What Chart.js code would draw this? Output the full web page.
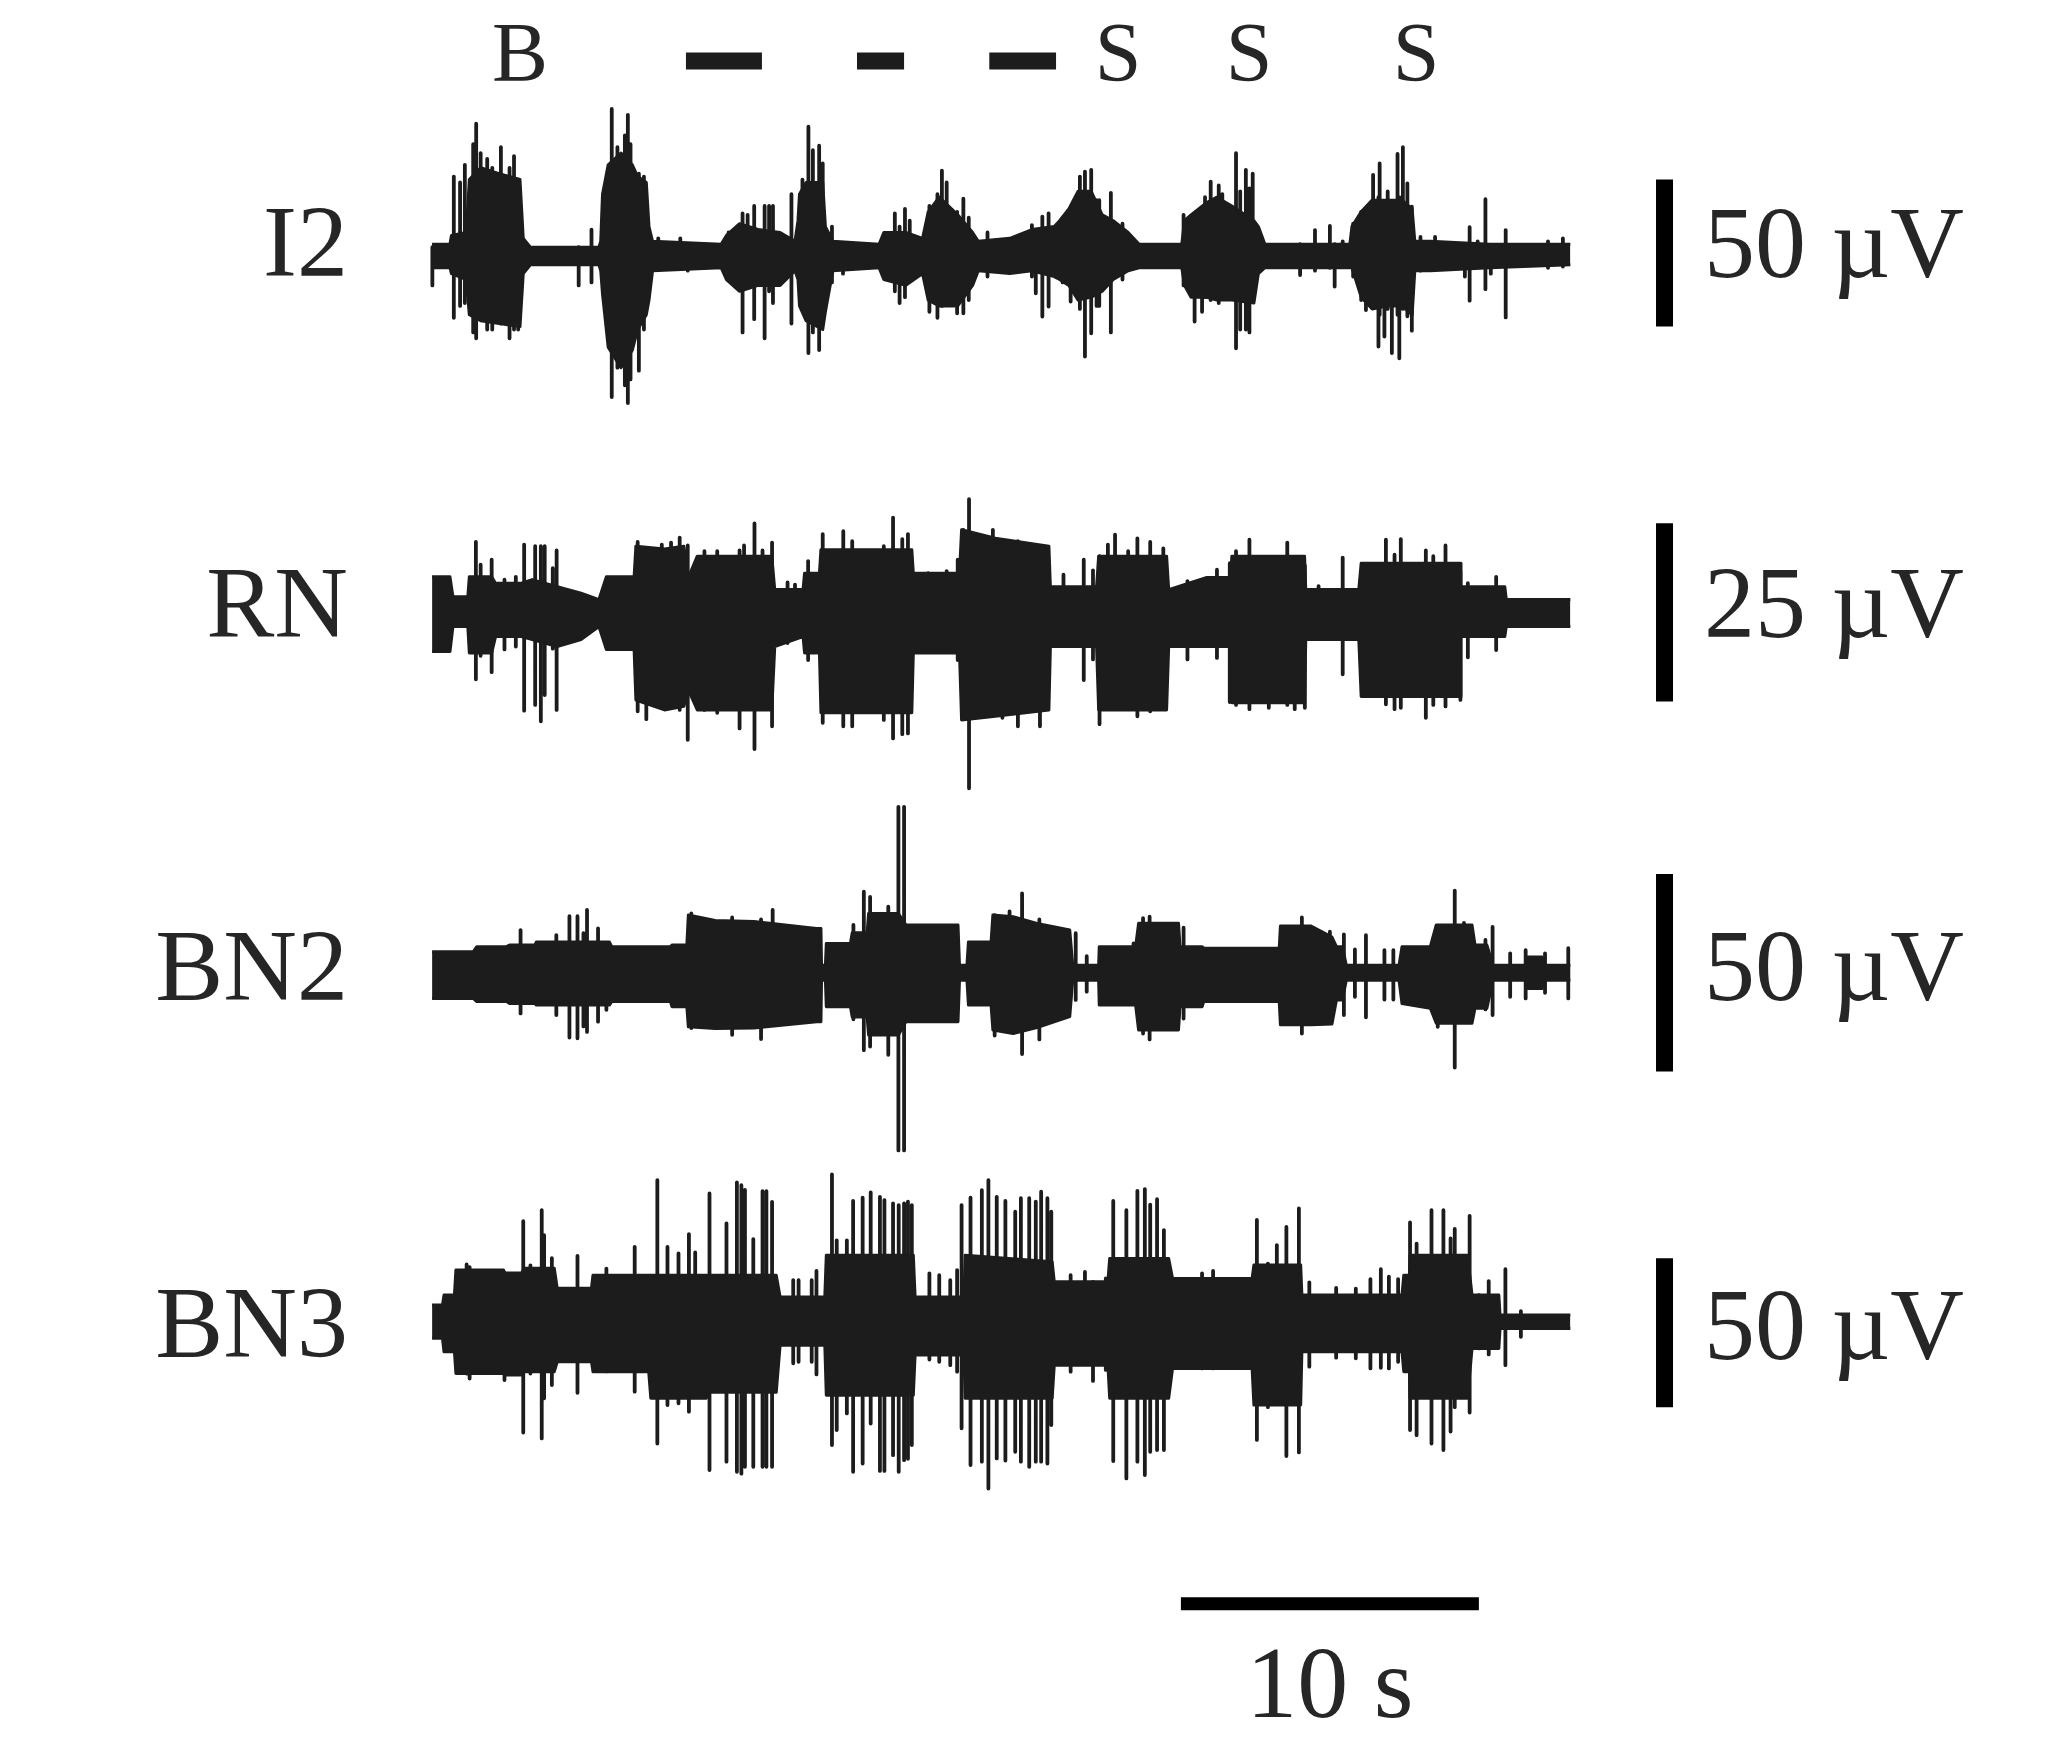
<!DOCTYPE html>
<html><head><meta charset="utf-8">
<script src="https://cdn.jsdelivr.net/npm/chart.js@4/dist/chart.umd.min.js"></script>
<style>
html,body{margin:0;padding:0;background:#fff;}
#wrap{position:relative;width:2051px;height:1746px;overflow:hidden;background:#fff;}
canvas{position:absolute;left:0;top:0;}
.t{position:absolute;font-family:"Liberation Serif","Times New Roman",serif;color:#262626;line-height:1;white-space:nowrap;}
</style></head><body>
<div id="wrap"><canvas id="c" width="2051" height="1746" style="width:2051px;height:1746px"></canvas></div>
<script>
// ---------- DATA (time in s, amplitude in µV) ----------
const traceNames = ['I2', 'RN', 'BN2', 'BN3'];
const scaleLabels = ['50 µV', '25 µV', '50 µV', '50 µV'];
const scaleSpans = [50, 25, 50, 50];
const scaleLows = [-24, -12.4, -25, -29];
const timeBarSeconds = 10;
const timeBarLabel = '10 s';
const markerLetters = ['B', 'S', 'S', 'S'];
const markerTimes = [2.95, 23.02, 27.42, 33.02];
const epochStarts = [8.52, 14.26, 18.7];
const epochEnds = [11.07, 15.84, 20.94];

// I2 envelope (dense activity) and individual spikes
const i2BodyT = [0,0.6,0.65,1.15,1.25,1.63,2.25,2.95,3.06,3.3,5.6,5.66,5.72,5.91,6.34,6.72,6.9,7.19,7.28,7.4,9.7,9.88,10.32,10.94,11.68,12.18,12.28,12.33,12.55,13.11,13.2,13.45,15.0,15.16,15.9,16.46,16.65,17.02,17.64,18.14,18.33,19.39,20.13,20.88,21.06,21.37,21.68,22.12,22.49,22.86,23.36,23.73,25.16,25.25,25.47,25.97,26.34,26.84,27.58,27.73,27.95,30.8,30.87,31.18,31.55,32.05,32.55,32.89,32.98,33.5,35.5,38.2];
const i2BodyTop = [4,4,7,8,26,30,28,26,6,3,3,5,21,31,35,31,27,25,10,5,4,7,11,9,8,5,12,21,25,25,10,5,4,8,8,6,15,20,14,8,5,6,9,10,12,16,22,22,14,12,8,4,4,12,14,18,20,17,12,10,4,4,10,15,19,19,19,16,5,5,4,4];
const i2BodyBot = [-4,-4,-6,-8,-20,-22,-23,-24,-6,-3,-3,-5,-13,-31,-38,-32,-25,-20,-15,-5,-4,-8,-12,-10,-10,-5,-8,-17,-22,-25,-19,-5,-4,-8,-10,-6,-15,-17,-17,-10,-5,-6,-5,-7,-8,-10,-15,-14,-12,-8,-5,-4,-4,-10,-14,-14,-15,-15,-16,-6,-4,-4,-4,-14,-18,-17,-17,-20,-5,-5,-4,-3];
const i2SpikeT = [0.01,0.73,0.94,1.1,1.38,1.48,1.63,1.85,2.02,2.31,2.6,2.75,2.89,4.92,5.35,5.76,6.03,6.22,6.47,6.57,6.66,6.94,7.11,7.59,8.33,8.58,9.95,10.42,10.59,10.81,11.16,11.31,11.44,12.06,12.43,12.63,12.78,12.99,13.11,13.42,13.79,15.53,15.69,15.87,16.03,16.69,16.96,17.11,17.27,17.62,17.83,18.01,18.64,20.13,20.26,20.48,20.69,21.16,21.43,21.6,21.74,21.91,22.12,22.3,22.39,22.78,23.17,25.22,25.59,25.84,25.94,26.13,26.4,26.52,26.77,26.98,27.12,27.31,27.43,27.54,29.13,29.63,30.13,30.29,30.56,30.91,31.18,31.34,31.58,31.76,31.8,31.96,32.07,32.21,32.4,32.46,32.58,32.73,32.88,33.17,33.66,34.66,34.82,35.09,35.35,35.53,36.03,37.45,37.95];
const i2SpikeHi = [3,27,25,31,38,45,35,33,30,37,30,34,26,3,9,21,50,37,41,48,38,28,27,6,6,4,8,14.5,14,17,17,17,17,21,26,44,36,37.5,31.5,10,3,14.5,10,16,12,17,21,29,25,15,19.5,13,8,10.5,8,13.4,14.5,12,15,19.6,27,28.7,29.3,19,19,21.5,11,14,14,15,20,25.3,24,21,17,35,22,29.3,23,28,4,8.8,10.2,4,5,11,15,14,27.6,20,31.5,18,22,18,34.7,20,37,24.7,16.8,6.5,6.5,3,9.8,5,19.3,3,8.8,5,6];
const i2SpikeLo = [-10,-21,-17,-16,-26,-28,-20,-25,-25,-23,-28,-25,-25,-10,-9,-13,-48,-38,-44,-50,-42,-39,-25,-4,-4,-5,-8,-26,-9,-21.5,-28,-12,-16,-23,-16,-33,-26,-32,-20,-9,-6,-12,-16,-14,-8,-19,-21,-17,-15,-19.5,-19.5,-15,-7,-7,-12.7,-20.6,-17.2,-9,-15.5,-13,-18,-34.2,-26.3,-17,-17,-26,-8,-10,-22.3,-19,-14,-15,-16,-12.5,-14,-31.4,-25,-25,-26,-15,-6.5,-5,-4,-10.4,-3,-7,-15,-18.4,-15,-30.8,-20,-27.4,-18,-33,-20,-34.8,-18,-20.5,-25.4,-5,-3,-7,-15.2,-3,-11.3,-6,-20.9,-4,-3.6];

// RN
const rnBodyT = [0,0.6,0.7,1.2,1.25,2.0,2.13,3.0,3.36,4.2,5.0,5.6,5.85,6.78,6.84,7.8,8.45,8.6,8.9,11.4,11.5,12.45,12.5,13.0,13.05,16.1,16.15,17.7,17.77,18.9,20.7,20.75,22.3,22.37,24.65,24.72,26.0,26.8,26.84,29.28,29.32,31.1,31.18,34.5,34.53,36.0,36.05,38.2];
const rnBodyTop = [5.1,5.1,2.3,2.3,5.1,5.1,4.2,4.2,4.7,3.7,2.8,1.9,5.1,5.1,9.4,9.0,9.4,5,8,8,3.3,3.3,5.6,5.6,8.9,8.9,5.6,5.6,11.7,10.5,9.4,3.7,3.7,8,8,3.3,5,5,8,8,3.3,3.3,7,7,3.7,3.7,1.9,1.9];
const rnBodyBot = [-5.4,-5.4,-1.9,-1.9,-5.6,-5.6,-3.3,-3.3,-3.7,-4.7,-3.7,-1.9,-5.1,-5.1,-12.2,-13.6,-13.1,-10.8,-13.6,-13.6,-4.7,-3.3,-5.6,-5.6,-14,-14,-5.6,-5.6,-15,-14.5,-13.6,-4.7,-4.7,-13.6,-13.6,-4.7,-4.7,-4.7,-12.6,-12.6,-3.7,-3.7,-11.7,-11.7,-3.3,-3.3,-1.9,-1.9];
const rnSpikeT = [1.47,1.63,2.0,2.43,2.81,3.09,3.46,3.65,3.78,4.05,4.18,6.9,7.19,7.71,8.02,8.31,8.58,9.14,9.57,10.32,10.47,10.82,11.09,11.41,11.93,12.18,12.62,13.11,13.8,14.1,15.16,15.47,15.78,15.97,16.65,17.27,17.64,17.83,18.02,18.82,19.14,19.66,20.23,20.4,21.19,21.87,22.18,22.4,22.68,22.92,23.36,23.67,24.1,24.54,25.35,26.34,26.77,26.98,27.43,28.08,28.7,28.95,29.29,29.75,30.56,32.01,32.3,32.51,33.35,33.6,34.01,34.51,34.76,35.71];
const rnSpikeHi = [10,6.8,7.5,4.7,5.1,9.6,9.4,9.4,9.4,6.3,8.8,10,9,9.6,9.9,10.6,9.5,8.7,8.7,8.8,9.5,12.6,8.8,9.9,4.3,4,7.3,11.1,11.5,10.1,9.4,13.4,10.4,11.1,5.6,5.9,7.5,11.7,16,11.7,10,10.1,9.1,9,5.4,7.5,6,8,9.6,11,8.7,10.5,10,9.1,4.5,6.1,7,8.7,10.3,7.7,9.9,7.5,6.7,3.8,7.8,10.3,8.2,10.4,8.8,8,9.5,5.9,4.2,5.1];
const rnSpikeLo = [-9.3,-6,-8.3,-5.1,-4.7,-13.7,-12.9,-15.2,-11.5,-5,-13.6,-13.8,-14.9,-13,-12,-13.6,-17.8,-13.6,-14,-16.2,-13,-19.1,-12,-15.9,-4.2,-3.5,-6.6,-15.4,-15.9,-15.9,-15,-17.6,-17,-16.9,-5.4,-4,-6.6,-14,-24.6,-13,-14.7,-15.9,-12,-15.9,-4.5,-9.4,-6.5,-15.6,-12,-13,-12.5,-14.5,-13.8,-12.9,-6.5,-6.3,-12.5,-12.9,-13.5,-13.3,-12.9,-13.5,-13.3,-3.5,-8.6,-12.8,-13.5,-13.3,-14.7,-12.9,-13.1,-12.2,-6.2,-5.2];

// BN2
const bn2BodyT = [0,1.38,1.5,2.5,2.6,3.45,3.5,5.95,6.03,8.0,8.05,8.55,8.6,9.5,10.8,12.9,13.05,13.07,13.2,13.23,14.04,14.1,14.6,14.65,15.65,15.9,17.65,17.7,17.95,18.0,18.76,18.82,19.5,20.3,21.4,21.5,22.37,22.39,23.61,23.71,25.05,25.1,25.84,25.9,28.43,28.47,29.5,30.2,30.35,30.55,30.68,32.45,32.55,33.5,33.7,34.9,35.0,35.4,35.6,36.75,36.78,37.25,37.3,38.2];
const bn2BodyTop = [5.3,5.3,6.6,6.6,7,7,7.8,7.8,6.6,6.6,7,7,14.6,13.2,13,11.2,11.2,1.9,1.9,7.4,7.4,10.1,10.1,15,15,12.1,12.1,1.9,1.9,7.8,7.8,14.6,14.2,12.5,10.8,1.9,1.9,6.6,6.6,12.5,12.5,6.6,6.6,6.2,6.2,11.8,11.8,9,6.6,6.6,1.9,1.9,6.6,6.6,12.1,12.1,7,7,1.9,1.9,4,4,1.9,1.9];
const bn2BodyBot = [-6.5,-6.5,-7.3,-7.3,-7.8,-7.8,-8.2,-8.2,-7.3,-7.3,-8.6,-8.6,-13.7,-14.1,-14,-12.4,-12.4,-1.9,-1.9,-8.6,-8.6,-11.2,-11.2,-15.8,-15.8,-12.4,-12.4,-1.9,-1.9,-8.2,-8.2,-14.5,-15.4,-13.9,-11.1,-1.9,-1.9,-8.2,-8.2,-14.5,-14.5,-8.6,-8.6,-7.3,-7.3,-13.2,-13.2,-13,-6.9,-6.9,-1.9,-1.9,-7.8,-9,-12.8,-12.8,-9,-9,-1.9,-1.9,-4,-4,-1.9,-1.9];
const bn2SpikeT = [2.97,4.17,4.61,4.88,5.08,5.2,5.57,5.85,8.7,10.07,11.04,11.43,14.14,14.49,14.7,15.31,15.65,15.84,18.88,19.38,19.8,20.38,21.6,21.97,23.54,23.86,24.08,25.22,29.19,30.13,30.6,30.97,31.34,31.96,32.26,33.75,34.03,34.32,34.63,35.35,35.59,36.18,36.7,37.35,38.13];
const bn2SpikeHi = [10.8,9.5,14.3,14.3,10,15.9,11.2,7.5,15,14,13.5,15.9,12.1,20.5,19.2,16.7,42,42,14.6,15.5,20.1,13.5,10,4.2,7.4,13.8,14.2,11.4,14,10.4,9.7,5.9,9.5,5.7,5.7,10.6,11.8,20.8,12.6,8.3,11.6,4.9,5.7,4.9,6.2];
const bn2SpikeLo = [-10.3,-10.7,-16.4,-16.6,-13.6,-15,-12.4,-9.4,-14,-15.7,-16.8,-13,-11.8,-19.6,-18.7,-20.8,-45,-45,-15.9,-15,-20.6,-16.9,-6.9,-4.8,-7,-15.4,-16.9,-11.6,-15.4,-11.1,-10.7,-6.1,-11.3,-6.8,-6.8,-13.7,-11,-24,-11,-9.3,-10.7,-6.1,-6.5,-5.1,-6.5];

// BN3
const bn3BodyT = [0,0.35,0.4,0.75,0.8,2.4,2.45,3.0,3.1,4.1,4.2,5.35,5.4,7.27,7.34,9.2,9.3,11.55,11.68,13.18,13.23,16.15,16.21,17.85,17.89,20.81,20.88,22.68,22.74,24.72,24.85,27.52,27.58,29.15,29.19,32.55,32.61,32.8,32.82,34.75,34.9,35.8,35.84,38.2];
const bn3BodyTop = [5.3,5.3,8.6,8.6,17,17,16,16,17.6,17.6,10.9,10.9,15.3,15.3,15.3,15.3,15.3,15.3,8,8,22,22,8,8,22,19.8,13.1,13.1,20.9,20.9,14.2,14.2,18.7,18.7,8.6,8.6,15.3,15.3,22,22,8.6,8.6,1.9,1.9];
const bn3BodyBot = [-5.9,-5.9,-10.4,-10.4,-17.7,-17.7,-18.2,-18.2,-17.1,-17.1,-13.8,-13.8,-17.1,-17.1,-26,-26,-24,-24,-8.2,-8.2,-25,-25,-11.5,-11.5,-26,-26,-14.9,-14.9,-26,-26,-16,-16,-28.3,-28.3,-10.4,-10.4,-17.1,-17.1,-26,-26,-9.3,-9.3,-2.6,-2.6];
const bn3SpikeT = [1.16,1.26,2.43,3.06,3.3,3.68,3.76,4.02,4.88,5.85,6.8,7.56,7.9,8.27,8.62,8.83,9.31,9.88,10.23,10.38,10.5,10.78,11.09,11.22,11.41,12.12,12.3,12.74,12.9,13.42,13.58,13.92,14.13,14.45,14.72,15.03,15.18,15.47,15.66,15.84,15.97,16.1,16.69,17.02,17.39,17.62,17.77,18.07,18.45,18.67,18.95,19.24,19.57,19.76,20.04,20.26,20.44,20.65,20.78,21.43,21.91,22.18,22.61,22.86,23.3,23.67,23.92,24.1,24.33,24.56,25.47,25.84,26.21,27.68,28.05,28.35,28.67,29.09,29.44,30.34,31.0,31.49,31.84,32.11,32.42,32.82,33.04,33.54,33.94,34.18,34.32,34.82,35.13,35.46,36.02,36.54];
const bn3SpikeHi = [18.9,18,16,33.4,18.6,37.1,28.7,21,21.8,17.5,24.8,47.2,24.8,22.6,29.1,22.9,42.7,32.7,46.4,45.5,43.9,27.4,43.5,43.5,39.9,13.6,13.6,13.6,16.7,49.1,27,27,40.2,41.3,43.1,41.6,40.5,39.4,38.8,39.4,40,38.8,15.9,15.3,13.6,17,38.8,41.3,43.8,47.2,41.6,40.2,36.6,41.1,41.1,40,43.3,41.1,36.6,15.3,16.4,13,14.2,40.2,37.1,43.6,44.2,39,40.8,30.4,12.2,15.9,16.7,33.8,19.2,25.4,31.5,37.7,12.9,11,10.8,14,17.3,14.8,14,33,25.9,37.1,37.1,27.6,30.8,35.2,8.6,13.3,17.3,3.2];
const bn3SpikeLo = [-17.7,-19.4,-19.9,-37.5,-17.7,-39.5,-26,-21.6,-24.2,-17,-23.8,-41.2,-28.3,-27.7,-30.5,-25,-50.1,-47.3,-50.7,-51.3,-49,-49,-49,-49,-49,-14.3,-13.8,-13.8,-18,-41.7,-36.7,-31.1,-50.7,-47.9,-34.5,-50.4,-50.4,-45.1,-50.7,-46.8,-46.3,-41.7,-13,-13.8,-14.9,-17.1,-36.1,-48.4,-47.3,-56.3,-46.2,-46.9,-44,-47.3,-49,-47.3,-47.3,-47.9,-35,-17.1,-14,-20.2,-16.5,-47.1,-52.9,-47.3,-51.8,-44,-43.4,-43.4,-12.7,-16,-16,-40,-29,-25,-45.4,-44.2,-15.4,-12.4,-12.6,-16,-15.8,-16,-13.8,-36.7,-38.4,-41.2,-43.4,-37.2,-29,-30.8,-9.3,-11.3,-14.9,-5.4];

// ---------- LAYOUT / STYLE ----------
const W = 2051, H = 1746;
const TRACE = '#1c1c1c', INK = '#000000';
const axisIds = ['yI2', 'yRN', 'yBN2', 'yBN3'];
const axisRanges = { yI2: [-506.8, 87.07], yRN: [-159.1, 86.1], yBN2: [-195.8, 246.3], yBN3: [-142.7, 443.2] };
const xRange = [-14.5, 54.33];
const scaleBarT = 41.36;
const timeBarStart = 25.13, timeBarLevel = -95;   // on BN3 axis
const epochLevel = 66.3;                           // on I2 axis

function bodySets(T, top, bot, axis) {
  return [
    { data: T.map((t, i) => ({ x: t, y: top[i] })), yAxisID: axis, borderColor: TRACE, backgroundColor: TRACE,
      borderWidth: 3, fill: '+1', pointRadius: 0, borderJoinStyle: 'round' },
    { data: T.map((t, i) => ({ x: t, y: bot[i] })), yAxisID: axis, borderColor: TRACE, backgroundColor: TRACE,
      borderWidth: 3, fill: false, pointRadius: 0, borderJoinStyle: 'round' }
  ];
}
function spikeSet(T, hi, lo, axis) {
  const d = [];
  T.forEach((t, i) => { d.push({ x: t, y: lo[i] }, { x: t, y: hi[i] }, { x: t, y: null }); });
  return { data: d, yAxisID: axis, borderColor: TRACE, borderWidth: 3.8, borderCapStyle: 'round',
    fill: false, pointRadius: 0, spanGaps: false };
}
function segSet(x0, y0, x1, y1, axis, width, color) {
  return { data: [{ x: x0, y: y0 }, { x: x1, y: y1 }], yAxisID: axis, borderColor: color, borderWidth: width,
    borderCapStyle: 'butt', fill: false, pointRadius: 0 };
}

const traces = [
  [i2BodyT, i2BodyTop, i2BodyBot, i2SpikeT, i2SpikeHi, i2SpikeLo],
  [rnBodyT, rnBodyTop, rnBodyBot, rnSpikeT, rnSpikeHi, rnSpikeLo],
  [bn2BodyT, bn2BodyTop, bn2BodyBot, bn2SpikeT, bn2SpikeHi, bn2SpikeLo],
  [bn3BodyT, bn3BodyTop, bn3BodyBot, bn3SpikeT, bn3SpikeHi, bn3SpikeLo]
];
const datasets = [];
traces.forEach((tr, k) => {
  datasets.push(...bodySets(tr[0], tr[1], tr[2], axisIds[k]));
  datasets.push(spikeSet(tr[3], tr[4], tr[5], axisIds[k]));
  datasets.push(segSet(scaleBarT, scaleLows[k], scaleBarT, scaleLows[k] + scaleSpans[k], axisIds[k], 17, INK));
});
datasets.push(segSet(timeBarStart, timeBarLevel, timeBarStart + timeBarSeconds, timeBarLevel, 'yBN3', 13, INK));
epochStarts.forEach((s, i) => datasets.push(segSet(s, epochLevel, epochEnds[i], epochLevel, 'yI2', 17, TRACE)));

const scales = { x: { type: 'linear', min: xRange[0], max: xRange[1], display: false } };
axisIds.forEach(id => { scales[id] = { axis: 'y', type: 'linear', min: axisRanges[id][0], max: axisRanges[id][1], display: false, stacked: false }; });

const chart = new Chart(document.getElementById('c'), {
  type: 'line',
  data: { datasets },
  options: {
    responsive: false, animation: false, devicePixelRatio: 1, events: [],
    layout: { padding: 0, autoPadding: false },
    plugins: { legend: { display: false }, tooltip: { enabled: false } },
    elements: { point: { radius: 0 }, line: { tension: 0 } },
    scales
  }
});

// ---------- TEXT ----------
const wrap = document.getElementById('wrap');
function addText(txt, size, x, baseline, align) {
  const d = document.createElement('div');
  d.className = 't'; d.textContent = txt;
  d.style.fontSize = size + 'px';
  d.style.top = (baseline - 0.8375 * size) + 'px';
  if (align === 'right') d.style.right = (W - x) + 'px';
  else if (align === 'center') { d.style.left = x + 'px'; d.style.transform = 'translateX(-50%)'; }
  else d.style.left = x + 'px';
  wrap.appendChild(d);
}
const labelBaselines = [276, 637, 1000, 1357];
const scaleBaselines = [277, 637, 1000, 1359];
traceNames.forEach((n, i) => addText(n, 102, 348, labelBaselines[i], 'right'));
scaleLabels.forEach((n, i) => addText(n, 102, 1704, scaleBaselines[i], 'left'));
const xs = chart.scales.x;
markerLetters.forEach((m, i) => addText(m, 84, xs.getPixelForValue(markerTimes[i]), 81, 'center'));
addText(timeBarLabel, 102, xs.getPixelForValue(timeBarStart + timeBarSeconds / 2), 1717, 'center');
</script>
</body></html>
